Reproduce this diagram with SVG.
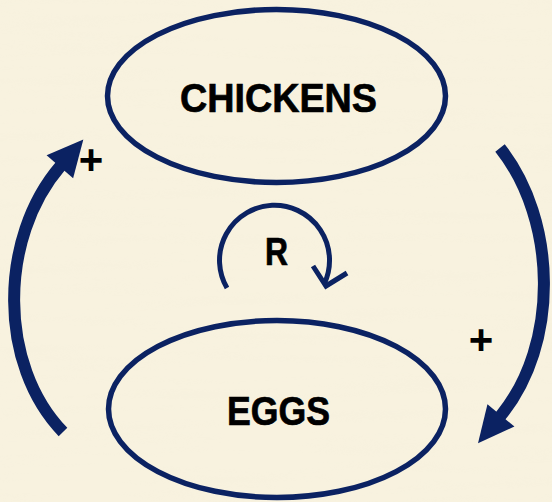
<svg xmlns="http://www.w3.org/2000/svg" width="552" height="502" viewBox="0 0 552 502">
  <style>
    .node-shape { fill: none; stroke: #0B2262; stroke-width: 5.5; }
    .label { font-family: "Liberation Sans", Arial, sans-serif; font-weight: bold; fill: #000; stroke: #000; stroke-width: 0.7; text-anchor: middle; }
    .flow { fill: none; stroke: #0B2262; stroke-width: 12; stroke-linecap: butt; }
    .loop { fill: none; stroke: #0B2262; stroke-width: 5; }
    .sign { font-family: "Liberation Sans", Arial, sans-serif; font-weight: bold; font-size: 42px; fill: #000; text-anchor: middle; }
  </style>
  <defs>
    <filter id="paper" x="0" y="0" width="100%" height="100%">
      <feTurbulence type="fractalNoise" baseFrequency="0.006 0.09" numOctaves="3" seed="7"/>
      <feColorMatrix type="matrix" values="0 0 0 0 0.86  0 0 0 0 0.82  0 0 0 0 0.68  1.2 0 0 0 -0.55"/>
    </filter>
    <marker id="head" markerUnits="userSpaceOnUse" viewBox="0 -20 40 40" refX="1" refY="0" markerWidth="40" markerHeight="40" orient="auto" overflow="visible">
      <path d="M0,-17.5 L36,0 L0,17.5 Z" fill="#0B2262"/>
    </marker>
  </defs>

  <!-- paper background -->
  <rect width="552" height="502" fill="#F8F2DF"/>
  <rect width="552" height="502" filter="url(#paper)" opacity="0.22"/>

  <!-- connectors -->
  <g id="connectors">
    <path class="flow" d="M63,432 C-2,365 -1.5,238 60.5,166" marker-end="url(#head)"/>
    <path class="flow" d="M500,148 C557,220 560,344 500.3,416.2" marker-end="url(#head)"/>
    <text class="sign" x="91" y="174">+</text>
    <text class="sign" x="481" y="354">+</text>
  </g>

  <g id="chickens">
    <ellipse class="node-shape" cx="276.5" cy="96" rx="169" ry="86.5"/>
    <text class="label" x="278.5" y="112" font-size="40" textLength="197" lengthAdjust="spacingAndGlyphs">CHICKENS</text>
  </g>

  <g id="eggs">
    <ellipse class="node-shape" cx="277" cy="409" rx="168.5" ry="88.5"/>
    <text class="label" x="278.5" y="425" font-size="40" textLength="103" lengthAdjust="spacingAndGlyphs">EGGS</text>
  </g>

  <!-- reinforcing loop marker -->
  <g id="loop-r">
    <path class="loop" d="M227,288 A55,55 0 1 1 324.3,283.7"/>
    <path class="loop" d="M313,266 L326,286 L347,273" stroke-linejoin="miter"/>
    <text class="label" x="276.5" y="265" font-size="38" textLength="23" lengthAdjust="spacingAndGlyphs">R</text>
  </g>
</svg>
